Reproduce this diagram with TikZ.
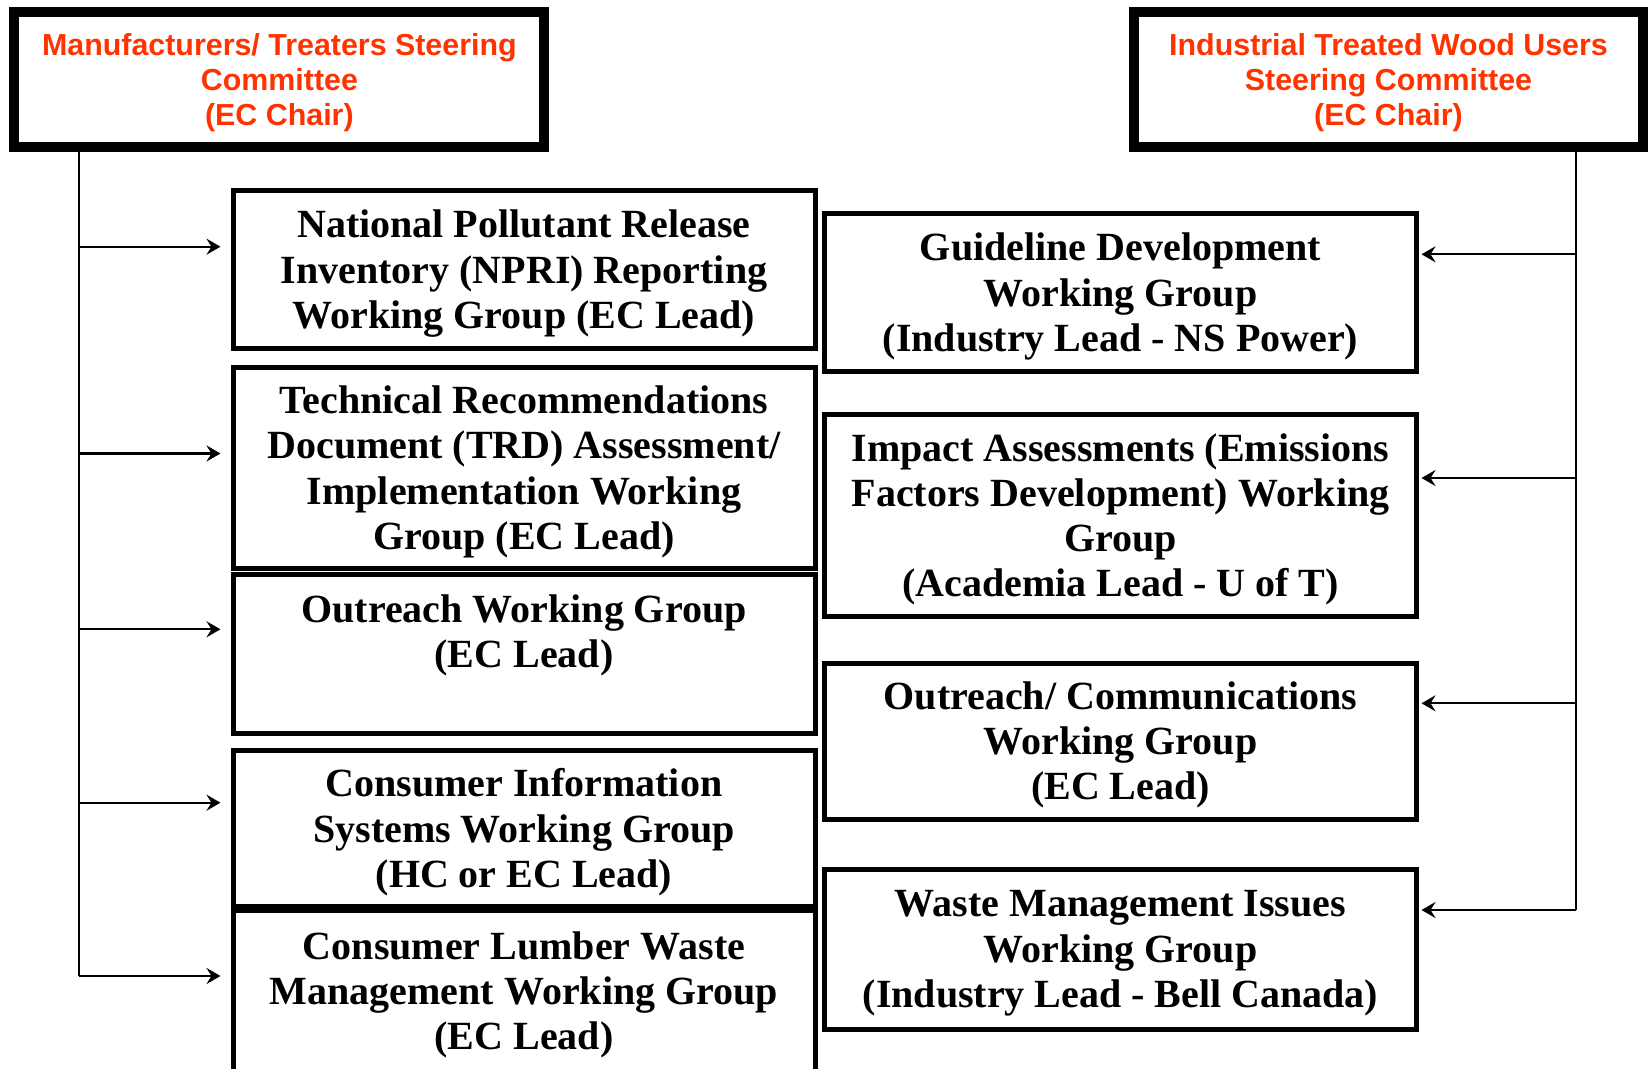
\documentclass[tikz,border=0pt]{standalone}
\usepackage{fontspec}
\setmainfont{Liberation Serif}
\newfontfamily\headfont{Liberation Sans}
\usetikzlibrary{arrows.meta}
\definecolor{headred}{RGB}{255,51,0}

\begin{document}
\begin{tikzpicture}[x=0.5pt, y=-0.5pt,
  >={Stealth[length=7pt,width=8pt,inset=2.5pt]},
  every node/.style = {shape=rectangle, align=center, inner sep=0pt},
  steering/.style = {draw, line width=5pt, minimum height=67.5pt, text depth=-1.6pt,
    text=headred, font=\headfont\bfseries\fontsize{15.2}{17.6}\selectfont},
  group/.style = {draw, line width=2.5pt, text depth=0.5pt,
    font=\bfseries\fontsize{20}{22.6}\selectfont},
  leftgroup/.style = {group, minimum width=291pt},
  rightgroup/.style = {group, minimum width=296pt},
  link/.style = {line width=1.1pt}]
  \useasboundingbox (0,0) rectangle (1650,1069);

  % steering committees
  \node[steering, minimum width=265pt] (mts) at (279.4,79.2)
    {Manufacturers/ Treaters Steering\\Committee\\(EC Chair)};
  \node[steering, minimum width=254.5pt] (itw) at (1388.5,79.2)
    {Industrial Treated Wood Users\\Steering Committee\\(EC Chair)};

  % working groups, left side
  \node[leftgroup, minimum height=78.75pt] (npri) at (524,269.75)
    {National Pollutant Release\\Inventory (NPRI) Reporting\\Working Group (EC Lead)};
  \node[leftgroup, minimum height=100.75pt] (trd) at (524,468.2)
    {Technical Recommendations\\Document (TRD) Assessment/\\Implementation Working\\Group (EC Lead)};
  \node[leftgroup, minimum height=79.5pt] (outreach) at (524,654)
    {Outreach Working Group\\(EC Lead)\\~};
  \node[leftgroup, minimum height=78pt] (cis) at (524,828.5)
    {Consumer Information\\Systems Working Group\\(HC or EC Lead)};
  \node[leftgroup, minimum height=81pt] (lumber) at (524,991)
    {Consumer Lumber Waste\\Management Working Group\\(EC Lead)};

  % working groups, right side
  \node[rightgroup, minimum height=78.75pt] (guide) at (1120.5,292.75)
    {Guideline Development\\Working Group\\(Industry Lead - NS Power)};
  \node[rightgroup, minimum height=100.75pt] (impact) at (1120.5,515.75)
    {Impact Assessments (Emissions\\Factors Development) Working\\Group\\(Academia Lead - U of T)};
  \node[rightgroup, minimum height=78pt] (comm) at (1120.5,741)
    {Outreach/ Communications\\Working Group\\(EC Lead)};
  \node[rightgroup, minimum height=79.75pt] (waste) at (1120.5,949.5)
    {Waste Management Issues\\Working Group\\(Industry Lead - Bell Canada)};

  % bus points
  \coordinate (l1) at (79,246.7);
  \coordinate (l2) at (79,453.5);
  \coordinate (l3) at (79,629.3);
  \coordinate (l4) at (79,802.7);
  \coordinate (l5) at (79,976);
  \coordinate (r1) at (1576,254.3);
  \coordinate (r2) at (1576,478);
  \coordinate (r3) at (1576,703.3);
  \coordinate (r4) at (1576,910);

  \draw[link] (mts.south -| l1) -- (l5);
  \draw[link,->,shorten >=5pt] (l1) -- (l1 -| npri.west);
  \draw[link,->,shorten >=5pt] (l2) -- (l2 -| trd.west);
  \draw[link,->,shorten >=5pt] (l3) -- (l3 -| outreach.west);
  \draw[link,->,shorten >=5pt] (l4) -- (l4 -| cis.west);
  \draw[link,->,shorten >=5pt] (l5) -- (l5 -| lumber.west);

  \draw[link] (itw.south -| r1) -- (r4);
  \draw[link,->,shorten >=1.25pt] (r1) -- (r1 -| guide.east);
  \draw[link,->,shorten >=1.25pt] (r2) -- (r2 -| impact.east);
  \draw[link,->,shorten >=1.25pt] (r3) -- (r3 -| comm.east);
  \draw[link,->,shorten >=1.25pt] (r4) -- (r4 -| waste.east);
\end{tikzpicture}
\end{document}
